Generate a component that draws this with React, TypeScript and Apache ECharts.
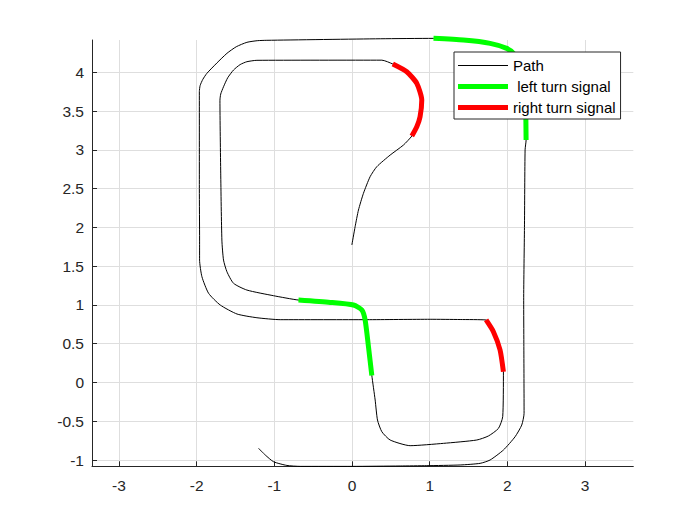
import React, { useEffect, useRef } from "react";
import * as echarts from "echarts";

// ---- data ----
const xTicks = [-3, -2, -1, 0, 1, 2, 3];
const yTicks = [-1, -0.5, 0, 0.5, 1, 1.5, 2, 2.5, 3, 3.5, 4];
const xRange = [-3.347, 3.621];
const yRange = [-1.081, 4.417];

const pathName = "Path";
const leftName = " left turn signal";
const rightName = "right turn signal";

// full vehicle path (black)
const pathXY: number[][] = [
  [-1.203, -0.849], [-1.117, -0.935], [-1.01, -1.022], [-0.838, -1.07], [-0.667, -1.082],
  [0.0, -1.082], [0.62, -1.077], [0.963, -1.073], [1.392, -1.064], [1.649, -1.043],
  [1.777, -1.0], [1.949, -0.871], [2.099, -0.7], [2.185, -0.549], [2.215, -0.398],
  [2.212, 0.5], [2.21, 1.06], [2.22, 2.0], [2.228, 3.0], [2.241, 3.127],
  [2.238, 3.407], [2.235, 3.7], [2.215, 3.93], [2.17, 4.1], [2.078, 4.245],
  [1.992, 4.309], [1.778, 4.374], [1.434, 4.416], [1.049, 4.438], [0.364, 4.433],
  [-1.096, 4.413], [-1.22, 4.408], [-1.353, 4.387], [-1.49, 4.33], [-1.61, 4.245],
  [-1.74, 4.12], [-1.868, 3.987], [-1.92, 3.91], [-1.955, 3.83], [-1.965, 3.75],
  [-1.965, 2.5], [-1.962, 1.837], [-1.962, 1.579], [-1.932, 1.364],
  [-1.846, 1.15], [-1.696, 0.999], [-1.48, 0.883], [-1.224, 0.835], [-0.924, 0.81],
  [0.191, 0.81], [1.006, 0.815], [1.392, 0.812], [1.726, 0.806], [1.82, 0.655],
  [1.906, 0.419], [1.949, 0.139], [1.94, -0.441], [1.885, -0.592], [1.756, -0.69],
  [1.606, -0.742], [1.177, -0.785], [0.748, -0.815], [0.491, -0.742], [0.384, -0.635],
  [0.328, -0.484], [0.298, -0.226], [0.255, 0.09], [0.212, 0.461], [0.169, 0.805],
  [0.127, 0.934], [0.019, 0.999], [-0.281, 1.033], [-0.689, 1.063], [-1.01, 1.119],
  [-1.353, 1.192], [-1.525, 1.279], [-1.61, 1.428], [-1.654, 1.579], [-1.675, 1.837],
  [-1.69, 2.7], [-1.7, 3.64], [-1.69, 3.72], [-1.654, 3.814], [-1.6, 3.93],
  [-1.525, 4.03], [-1.44, 4.1], [-1.353, 4.137],
  [-1.224, 4.155], [0.384, 4.157], [0.525, 4.107], [0.705, 4.008], [0.834, 3.858],
  [0.898, 3.643], [0.876, 3.427], [0.834, 3.298], [0.77, 3.178], [0.662, 3.062],
  [0.491, 2.933], [0.319, 2.783], [0.233, 2.654], [0.147, 2.439], [0.083, 2.224],
  [0.04, 2.009], [-0.002, 1.773],
];

// left turn signal segments (green)
const leftSignalTop: number[][] = [
  [2.241, 3.127], [2.238, 3.407], [2.235, 3.7], [2.215, 3.93], [2.17, 4.1],
  [2.078, 4.245], [1.992, 4.309], [1.778, 4.374], [1.434, 4.416], [1.049, 4.438],
];
const leftSignalMid: number[][] = [
  [0.255, 0.09], [0.212, 0.461], [0.169, 0.805], [0.127, 0.934], [0.019, 0.999],
  [-0.281, 1.033], [-0.689, 1.063],
];

// right turn signal segments (red)
const rightSignalLow: number[][] = [
  [1.726, 0.806], [1.82, 0.655], [1.906, 0.419], [1.949, 0.139],
];
const rightSignalTop: number[][] = [
  [0.525, 4.107], [0.705, 4.008], [0.834, 3.858], [0.898, 3.643], [0.876, 3.427],
  [0.834, 3.298], [0.77, 3.178],
];

const FONT = "'Liberation Sans', Arial, Helvetica, sans-serif";
const AXIS_COLOR = "#262626";
const GRID_COLOR = "#dedede";
const THIN_ICON = "path://M0,0H100V2H0Z";
const THICK_ICON = "path://M0,0H100V10H0Z";

function lineSeries(name: string, data: number[][], color: string, width: number, z: number) {
  return {
    type: "line",
    name,
    data,
    symbol: "none",
    smooth: 0.2,
    clip: false,
    z,
    lineStyle: { color, width },
    itemStyle: { color },
    emphasis: { disabled: true },
  };
}

export default function App() {
  const ref = useRef<HTMLDivElement>(null);

  useEffect(() => {
    if (!ref.current) return;
    const chart = echarts.init(ref.current, undefined, { renderer: "svg" });
    chart.setOption({
      animation: false,
      backgroundColor: "#ffffff",
      grid: { left: 92, top: 40, right: 66.7, bottom: 58.7, containLabel: false },
      xAxis: {
        type: "value",
        min: xRange[0],
        max: xRange[1],
        axisLine: { show: true, onZero: false, lineStyle: { color: AXIS_COLOR, width: 1 } },
        axisTick: { show: true, inside: true, length: 5, customValues: xTicks, lineStyle: { color: AXIS_COLOR } },
        axisLabel: { customValues: xTicks, fontSize: 15.5, color: AXIS_COLOR, fontFamily: FONT, margin: 11 },
        splitLine: { show: true, lineStyle: { color: GRID_COLOR, width: 1 } },
      },
      yAxis: {
        type: "value",
        min: yRange[0],
        max: yRange[1],
        axisLine: { show: true, onZero: false, lineStyle: { color: AXIS_COLOR, width: 1 } },
        axisTick: { show: true, inside: true, length: 5, customValues: yTicks, lineStyle: { color: AXIS_COLOR } },
        axisLabel: { customValues: yTicks, fontSize: 15.5, color: AXIS_COLOR, fontFamily: FONT, margin: 8 },
        splitLine: { show: true, lineStyle: { color: GRID_COLOR, width: 1 } },
      },
      legend: {
        orient: "vertical",
        left: 454,
        top: 52,
        padding: [6, 5, 4, 4],
        itemWidth: 50,
        itemHeight: 14,
        itemGap: 6,
        symbolKeepAspect: true,
        borderColor: AXIS_COLOR,
        borderWidth: 1,
        borderRadius: 0,
        backgroundColor: "#ffffff",
        selectedMode: false,
        textStyle: { fontSize: 15, color: "#000000", fontFamily: FONT, lineHeight: 15 },
        data: [
          { name: pathName, icon: THIN_ICON },
          { name: leftName, icon: THICK_ICON },
          { name: rightName, icon: THICK_ICON },
        ],
      },
      series: [
        lineSeries(pathName, pathXY, "#000000", 1, 2),
        lineSeries(leftName, leftSignalTop, "#00ff00", 5, 3),
        lineSeries(leftName, leftSignalMid, "#00ff00", 5, 3),
        lineSeries(rightName, rightSignalLow, "#ff0000", 5, 3),
        lineSeries(rightName, rightSignalTop, "#ff0000", 5, 3),
      ],
    });
    return () => chart.dispose();
  }, []);

  return (
    <div
      ref={ref}
      style={{ position: "fixed", left: 0, top: 0, width: 700, height: 525, background: "#fff" }}
    />
  );
}
